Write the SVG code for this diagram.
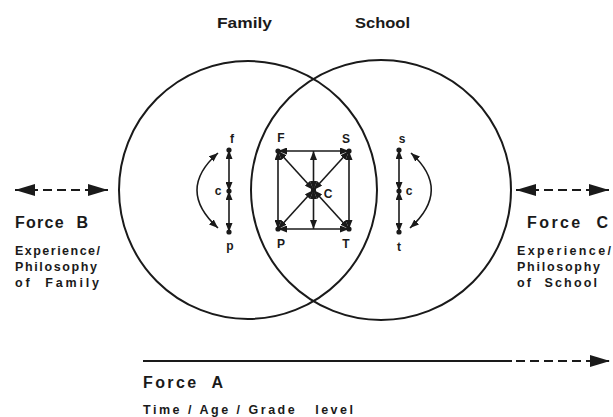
<svg xmlns="http://www.w3.org/2000/svg" width="613" height="417" viewBox="0 0 613 417">
<defs>
<style>
text{font-family:"Liberation Sans","DejaVu Sans",Arial,sans-serif;font-weight:bold;fill:#1a1a1a;white-space:pre}
.circ{fill:none;stroke:#1a1a1a;stroke-width:2}
.ln{stroke:#1a1a1a;stroke-width:1.6;fill:none;marker-start:url(#ah);marker-end:url(#ah)}
.big{stroke:#1a1a1a;stroke-width:2.2;fill:none}
.dash{stroke-dasharray:9 5}
.dot{fill:#1a1a1a}
.lbl{font-size:12px;text-anchor:middle}
.sm{font-size:12px;text-anchor:middle}
.force{font-size:16px}
.sub{font-size:12.5px}
</style>
<marker id="ah" viewBox="0 0 9 7" refX="9" refY="3.5" markerWidth="9" markerHeight="7" markerUnits="userSpaceOnUse" orient="auto-start-reverse"><path d="M0,0 L9,3.5 L0,7 z" fill="#1a1a1a"/></marker>
<marker id="bh" viewBox="0 0 20 12" refX="20" refY="6" markerWidth="20" markerHeight="12" markerUnits="userSpaceOnUse" orient="auto-start-reverse"><path d="M0,0 L20,6 L0,12 z" fill="#1a1a1a"/></marker>
</defs>
<rect width="613" height="417" fill="#ffffff"/>

<g id="family">
<circle class="circ" cx="248" cy="190" r="129"/>
<text x="217" y="28" font-size="15" textLength="55" lengthAdjust="spacingAndGlyphs">Family</text>
</g>
<g id="school">
<circle class="circ" cx="381" cy="190" r="130"/>
<text x="355" y="28" font-size="15" textLength="55" lengthAdjust="spacingAndGlyphs">School</text>
</g>

<g id="connectors">
<path class="ln" d="M278,151 L349,151"/>
<path class="ln" d="M278,229 L349,229"/>
<path class="ln" d="M278,151 L278,229"/>
<path class="ln" d="M349,151 L349,229"/>
<path class="ln" d="M313.5,190 L278,151"/>
<path class="ln" d="M313.5,190 L349,151"/>
<path class="ln" d="M313.5,190 L278,229"/>
<path class="ln" d="M313.5,190 L349,229"/>
<path class="ln" d="M313.5,190 L313.5,151"/>
<path class="ln" d="M313.5,190 L313.5,229"/>
<path class="ln" d="M229,150 L229,191"/>
<path class="ln" d="M229,191 L229,232"/>
<path class="ln" d="M218,153 Q176,190 218,228"/>
<path class="ln" d="M399,150 L399,191"/>
<path class="ln" d="M399,191 L399,232"/>
<path class="ln" d="M411,153 Q452,190 410,228"/>
<path class="big dash" d="M15,190 L108,190" marker-start="url(#bh)" marker-end="url(#bh)"/>
<path class="big dash" d="M516,190 L609,190" marker-start="url(#bh)" marker-end="url(#bh)"/>
<path class="big" d="M143,361 L512,361"/>
<path class="big dash" d="M516,361 L610,361" marker-end="url(#bh)"/>
</g>

<g id="node-F"><circle class="dot" cx="278" cy="151" r="2.6"/><text class="lbl" x="281" y="142">F</text></g>
<g id="node-S"><circle class="dot" cx="349" cy="151" r="2.6"/><text class="lbl" x="346" y="143">S</text></g>
<g id="node-P"><circle class="dot" cx="278" cy="229" r="2.6"/><text class="lbl" x="281" y="248">P</text></g>
<g id="node-T"><circle class="dot" cx="349" cy="229" r="2.6"/><text class="lbl" x="346" y="248">T</text></g>
<g id="node-C"><circle class="dot" cx="313.5" cy="190" r="2.6"/><text class="lbl" x="328" y="198">C</text></g>

<g id="node-f"><circle class="dot" cx="229" cy="150" r="2.6"/><text class="sm" x="232" y="143">f</text></g>
<g id="node-c-family"><circle class="dot" cx="229" cy="191" r="2.6"/><text class="sm" x="218" y="195">c</text></g>
<g id="node-p"><circle class="dot" cx="229" cy="232" r="2.6"/><text class="sm" x="230" y="250">p</text></g>
<g id="node-s"><circle class="dot" cx="399" cy="150" r="2.6"/><text class="sm" x="402" y="143">s</text></g>
<g id="node-c-school"><circle class="dot" cx="399" cy="191" r="2.6"/><text class="sm" x="409" y="195">c</text></g>
<g id="node-t"><circle class="dot" cx="399" cy="232" r="2.6"/><text class="sm" x="399" y="251">t</text></g>

<g id="force-B">
<text class="force" x="15" y="228" textLength="73" lengthAdjust="spacing">Force  B</text>
<text class="sub" x="15" y="255" textLength="85" lengthAdjust="spacing">Experience/</text>
<text class="sub" x="15" y="271" textLength="82" lengthAdjust="spacing">Philosophy</text>
<text class="sub" x="15" y="287" textLength="84" lengthAdjust="spacing">of  Family</text>
</g>
<g id="force-C">
<text class="force" x="527" y="228" textLength="81" lengthAdjust="spacing">Force  C</text>
<text class="sub" x="517" y="255" textLength="94" lengthAdjust="spacing">Experience/</text>
<text class="sub" x="517" y="271" textLength="83" lengthAdjust="spacing">Philosophy</text>
<text class="sub" x="517" y="287" textLength="80" lengthAdjust="spacing">of  School</text>
</g>
<g id="force-A">
<text class="force" x="143" y="388" textLength="80" lengthAdjust="spacing">Force  A</text>
<text class="sub" x="143" y="414" textLength="210" lengthAdjust="spacing">Time / Age / Grade   level</text>
</g>
</svg>
